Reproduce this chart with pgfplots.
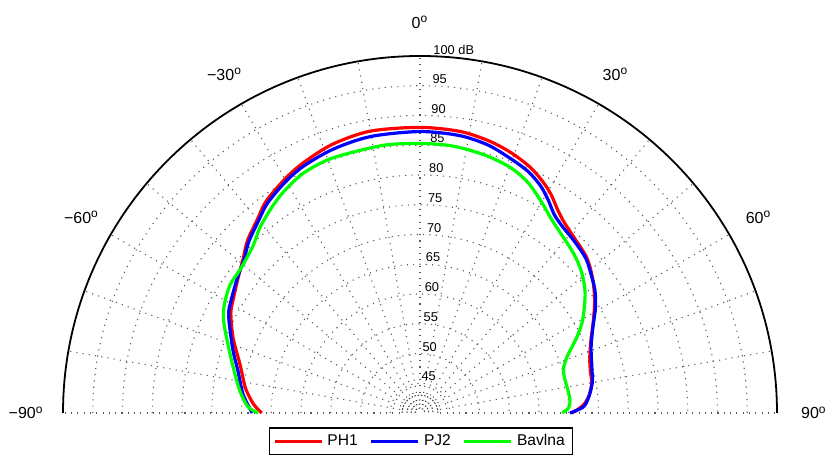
\documentclass[border=0pt]{standalone}
\usepackage{fontspec}
\setmainfont{Liberation Sans}
\usepackage{pgfplots}
\usepackage{pgfplotstable}
\pgfplotsset{compat=1.18}

% angle (deg, 0 = front) and level (dB)
\pgfplotstableread{
ang dB
-90 66.6
-87 68.0
-82 69.6
-75 71.3
-68 73.9
-62 76.0
-58 76.9
-53 78.2
-49 79.4
-45 81.0
-40 82.5
-36 84.0
-30 85.4
-25 86.4
-18 87.5
-10 88.1
0 88.0
8 87.8
14 87.2
19 86.4
24 85.3
28 84.0
31 82.8
34 81.3
37 80.2
41 79.3
47 78.3
52 76.8
57 75.0
62 73.0
67 71.2
72 70.0
76 69.5
80 69.3
84 68.6
87 67.6
89 66.3
90 65.5
}\tabPH

\pgfplotstableread{
ang dB
-90 68.2
-84 69.9
-77 71.4
-71 73.3
-63 76.1
-59 77.0
-53 78.3
-49 79.2
-45 80.7
-40 82.2
-36 83.6
-30 85.0
-25 85.9
-18 86.7
-10 87.2
0 87.3
8 87.1
14 86.5
19 85.5
24 84.5
28 83.2
31 81.8
34 80.3
37 79.5
42 78.8
47 78.1
51 77.0
55 75.9
59 74.4
64 72.3
69 70.8
75 69.9
80 69.4
85 68.4
88 67.4
90 65.2
}\tabPJ

\pgfplotstableread{
ang dB
-90 67.2
-88 68.9
-83 70.5
-76 72.4
-70 74.4
-65 76.4
-61 77.6
-56 78.5
-51 78.7
-45 79.7
-41 81.1
-36.5 82.4
-32 83.6
-26 84.8
-19 85.3
-8 85.4
0 85.3
7 85.2
14 84.7
20 84.0
25 82.8
30 80.9
34 79.4
37 78.6
44 77.2
49 76.0
54 74.3
60 71.6
64 69.4
69 66.5
73 65.2
77 65.0
80 65.1
85 65.3
88 65.0
90 63.9
}\tabBav

\tikzset{gridline/.style={black!65, line width=0.55pt, dash pattern=on 0.55pt off 2.6pt},
    anglab/.style={font=\fontsize{8}{9}\selectfont}}

\begin{document}
\begin{tikzpicture}
\begin{axis}[
    scale only axis,
    width=414.5pt, height=227.5pt,
    xmin=-70.59, xmax=68.74, ymin=-7.06, ymax=69.41,
    hide axis, clip=false,
    legend columns=3,
    legend style={at={(axis cs:0.17,-4.75)}, anchor=center, draw=black, line width=0.6pt,
        font=\fontsize{7.8}{9}\selectfont, inner xsep=2pt, inner ysep=1pt,
        /tikz/every even column/.append style={column sep=4pt}},
    legend image code/.code={\draw[#1] (0pt,0pt) -- (23.5pt,0pt);},
]
% rings every 5 dB, 40 dB in the centre
\pgfplotsinvokeforeach{5,10,...,55}{
    \draw[gridline] (axis cs:-#1,0) arc[start angle=180, end angle=0, radius=#1*2.975pt];
}
\pgfplotsinvokeforeach{0.85,1.5,2.2,3.0}{
    \draw[black!75, line width=0.5pt, dash pattern=on 0.8pt off 0.8pt] (axis cs:-#1,0) arc[start angle=180, end angle=0, radius=#1*2.975pt];
}
% spokes every 10 deg
\pgfplotsinvokeforeach{0,10,...,180}{
    \draw[gridline] (axis cs:0,0) ++(#1:3.4*2.975pt) -- ++(#1:56.6*2.975pt);
}
\draw[black, line width=0.9pt] (axis cs:-60,0) arc[start angle=180, end angle=0, radius=60*2.975pt];

% level labels
\pgfplotsinvokeforeach{45,50,...,95}{
    \node[anchor=west, inner sep=0pt, font=\fontsize{6.4}{7}\selectfont] at (axis cs:{0.037*(#1-40)},{#1-40+1.15}) {#1};
}
\node[anchor=west, inner sep=0pt, font=\fontsize{6.4}{7}\selectfont] at (axis cs:2.2,61.1) {100 dB};

% angle labels
\path (axis cs:0,0) ++(90:65.7*2.975pt) node[anglab] {0\textsuperscript{o}};
\path (axis cs:0,0) ++(60:65.7*2.975pt) node[anglab] {30\textsuperscript{o}};
\path (axis cs:0,0) ++(30:65.7*2.975pt) node[anglab] {60\textsuperscript{o}};
\path (axis cs:0,0) ++(0:66.2*2.975pt) node[anglab] {90\textsuperscript{o}};
\path (axis cs:0,0) ++(120:65.7*2.975pt) node[anglab] {−30\textsuperscript{o}};
\path (axis cs:0,0) ++(150:65.7*2.975pt) node[anglab] {−60\textsuperscript{o}};
\path (axis cs:0,0) ++(180:66.2*2.975pt) node[anglab] {−90\textsuperscript{o}};

\addplot[red, line width=1.6pt, smooth] table[x expr={(\thisrow{dB}-40)*sin(\thisrow{ang})}, y expr={(\thisrow{dB}-40)*cos(\thisrow{ang})}] {\tabPH};
\addlegendentry{PH1}
\addplot[blue, line width=1.6pt, smooth] table[x expr={(\thisrow{dB}-40)*sin(\thisrow{ang})}, y expr={(\thisrow{dB}-40)*cos(\thisrow{ang})}] {\tabPJ};
\addlegendentry{PJ2}
\addplot[green, line width=1.6pt, smooth] table[x expr={(\thisrow{dB}-40)*sin(\thisrow{ang})}, y expr={(\thisrow{dB}-40)*cos(\thisrow{ang})}] {\tabBav};
\addlegendentry{Bavlna}
\end{axis}
\pgfresetboundingbox
\useasboundingbox (current axis.south west) rectangle (current axis.north east);
\end{tikzpicture}
\end{document}
